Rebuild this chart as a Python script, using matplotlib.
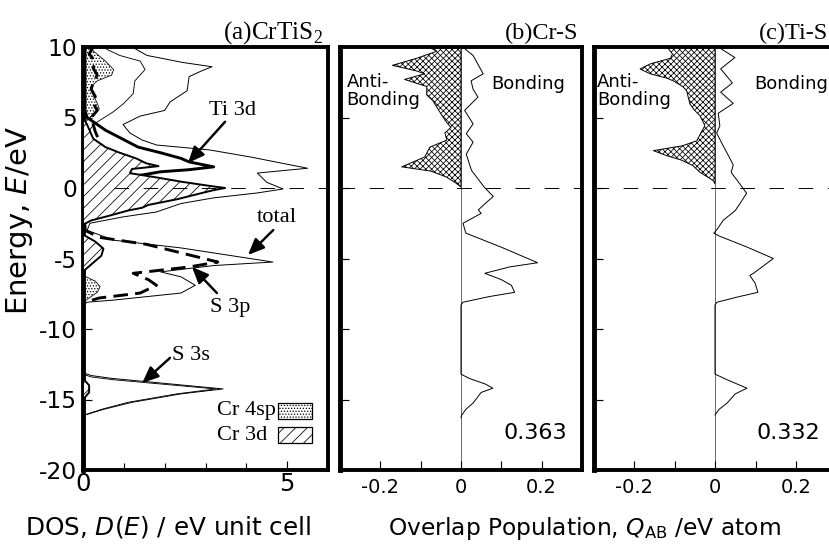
import matplotlib
matplotlib.use('Agg')
import matplotlib.pyplot as plt
from matplotlib.patches import Rectangle

plt.rcParams['hatch.linewidth'] = 0.8
plt.rcParams['mathtext.fontset'] = 'dejavusans'
plt.rcParams['axes.unicode_minus'] = False
plt.rcParams['font.family'] = ['DejaVu Sans']

SERIF = ['Liberation Serif', 'DejaVu Serif']
SANS = ['DejaVu Sans']

# ---------------- data : panel (a) DOS ----------------
E_total = [10.0, 9.4, 8.9, 8.6, 8.3, 7.9, 6.9, 6.1, 5.5, 5.1, 4.5, 3.9, 3.4, 3.05, 2.7, 2.2,
           1.4, 1.06, 0.4, -0.07, -0.35, -0.7, -1.1, -1.7, -2.05, -2.5, -3.0, -3.7, -4.25,
           -5.25, -5.5, -5.95, -6.3, -6.9, -7.45, -7.95, -8.1, -8.3, -13.1, -13.3, -13.5,
           -14.25, -14.6, -15.2, -15.7, -16.1, -16.4, -20.0]
D_total = [1.2, 1.57, 2.45, 3.16, 2.9, 2.6, 2.55, 2.13, 2.0, 1.4, 0.98, 1.15, 1.45, 1.8, 3.1, 4.1,
           5.5, 4.27, 4.5, 4.9, 4.27, 3.2, 2.4, 1.8, 0.98, 0.17, 0.1, 0.75, 2.4,
           4.65, 3.2, 1.9, 2.4, 2.75, 2.4, 0.75, 0.1, 0.0, 0.0, 0.2, 0.7,
           3.43, 2.4, 1.2, 0.5, 0.05, 0.0, 0.0]

E_ti3d = [10.0, 7.0, 5.5, 5.0, 4.6, 4.1, 3.5, 2.9, 2.5, 2.1, 1.85, 1.5, 1.3,
          1.15, 0.8, 0.3, -0.5, -1.5, -2.5, -3.0]
D_ti3d = [0.05, 0.05, 0.05, 0.1, 0.3, 0.55, 0.95, 1.35, 1.9, 2.4, 2.6, 3.2, 2.6,
          1.9, 1.2, 0.8, 0.5, 0.3, 0.05, 0.0]

E_cr3d = [5.0, 4.5, 3.5, 2.9, 2.5, 2.1, 1.75, 1.55, 1.35, 1.05, 0.75, 0.45, 0.15, 0.0, -0.15,
          -0.4, -0.8, -1.2, -1.4, -1.6, -2.0, -2.3, -2.6, -3.3, -3.8, -4.3, -4.8, -5.3, -5.8,
          -6.2, -13.5, -14.0, -14.5, -15.0]
D_cr3d = [0.0, 0.1, 0.25, 0.55, 0.9, 1.3, 1.55, 1.85, 1.2, 1.15, 1.8, 2.4, 3.1, 3.48, 3.2,
          2.85, 2.3, 1.6, 1.45, 1.1, 0.6, 0.2, 0.0, 0.0, 0.3, 0.5, 0.45, 0.25, 0.05,
          0.0, 0.0, 0.15, 0.15, 0.0]

E_cr4sp = [10.0, 9.6, 9.0, 8.4, 8.0, 7.6, 7.2, 6.6, 6.0, 5.6, 5.2, 4.8, 4.4, -6.2, -6.6, -7.0,
           -7.4, -7.8, -8.1, -13.8, -14.2, -14.6]
D_cr4sp = [0.15, 0.3, 0.55, 0.75, 0.7, 0.35, 0.2, 0.25, 0.35, 0.4, 0.25, 0.1, 0.0, 0.0, 0.3, 0.42,
           0.35, 0.15, 0.0, 0.0, 0.1, 0.0]

E_s3p = [10.0, 9.5, 9.0, 8.5, 8.0, 7.5, 7.0, 6.5, 6.0, 5.5, 5.0, 4.0, 3.0, 2.0, 1.0, 0.0, -1.0,
         -2.0, -2.6, -3.0, -3.5, -4.0, -4.6, -5.25, -5.6, -6.05, -6.5, -6.9, -7.45, -7.8, -8.1]
D_s3p = [0.25, 0.15, 0.3, 0.25, 0.35, 0.25, 0.2, 0.3, 0.25, 0.35, 0.2, 0.3, 0.45, 0.55, 0.6, 0.5,
         0.4, 0.2, 0.05, 0.05, 0.4, 1.56, 2.4, 3.3, 2.6, 1.23, 1.6, 1.8, 1.4, 0.4, 0.05]

E_s3s = [-13.2, -13.4, -13.6, -14.25, -14.6, -15.2, -15.7, -16.1]
D_s3s = [0.0, 0.2, 0.75, 3.25, 2.3, 1.1, 0.45, 0.03]

E_other = [10.0, 9.8, 9.4, 9.0, 8.4, 7.6, 6.7, 6.0, 5.4, 4.5, 4.0, 3.0, 2.0, 1.0, 0.0, -1.0,
           -2.0, -2.6]
D_other = [0.5, 0.61, 0.9, 1.4, 1.52, 1.27, 1.23, 1.0, 0.74, 0.25, 0.15, 0.3, 0.4, 0.5, 0.5, 0.45,
           0.2, 0.0]

# ---------------- data : panel (b) Cr-S COOP ----------------
E_crs_anti = [10.0, 9.7, 9.2, 8.7, 8.3, 8.1, 7.7, 7.2, 6.6, 6.2, 5.5, 4.7, 4.3, 3.9, 3.4, 2.9,
              2.2, 1.5, 1.2, 0.8, 0.4, 0.07]
Q_crs_anti = [-0.08, -0.06, -0.11, -0.17, -0.11, -0.09, -0.14, -0.085, -0.085, -0.07, -0.055,
              -0.037, -0.025, -0.04, -0.035, -0.077, -0.09, -0.147, -0.075, -0.038, -0.015, 0.0]

E_crs_bond = [10.0, 9.4, 8.1, 7.6, 7.0, 6.45, 5.5, 4.55, 3.85, 3.25, 2.4, 1.25, 0.05, -0.6,
              -1.1, -1.55, -1.8, -2.5, -3.2, -4.2, -5.3, -5.6, -6.05, -6.5, -6.9, -7.4, -7.7,
              -8.1, -8.3, -13.2, -13.5, -13.9, -14.2, -14.5, -15.25, -15.7, -16.1, -16.3]
Q_crs_bond = [0.004, 0.03, 0.055, 0.025, 0.03, 0.042, 0.009, 0.03, 0.013, 0.03, 0.013, 0.026,
              0.058, 0.08, 0.06, 0.043, 0.05, 0.005, 0.012, 0.1, 0.19, 0.12, 0.059, 0.1, 0.125,
              0.133, 0.07, 0.005, 0.0, 0.0, 0.02, 0.06, 0.079, 0.05, 0.03, 0.012, 0.002, 0.0]

# ---------------- data : panel (c) Ti-S COOP ----------------
E_tis_anti = [10.0, 9.5, 9.2, 8.8, 8.44, 8.1, 7.8, 7.6, 7.2, 6.9, 5.96, 5.5, 5.13, 4.42, 3.9,
              3.35, 3.0, 2.65, 2.3, 2.0, 1.6, 1.11, 0.52, 0.3]
Q_tis_anti = [-0.118, -0.105, -0.11, -0.16, -0.185, -0.16, -0.12, -0.103, -0.08, -0.07, -0.062,
              -0.05, -0.037, -0.025, -0.035, -0.045, -0.08, -0.152, -0.12, -0.085, -0.055,
              -0.037, -0.004, 0.0]

E_tis_bond = [10.0, 9.25, 8.45, 7.45, 6.8, 6.0, 5.3, 4.4, 3.9, 3.0, 2.2, 1.63, 1.1, 0.57, -0.37,
              -1.09, -1.6, -2.3, -2.98, -3.2, -3.4, -4.2, -5.0, -5.3, -6.05, -6.2, -6.75, -7.4,
              -7.7, -8.1, -8.3, -13.2, -13.6, -14.2, -14.6, -15.25, -15.7, -16.1]
Q_tis_bond = [0.008, 0.049, 0.014, 0.043, 0.014, 0.045, 0.008, 0.012, 0.004, 0.02, 0.035, 0.045,
              0.04, 0.054, 0.078, 0.062, 0.05, 0.02, 0.004, -0.003, 0.01, 0.08, 0.144, 0.13,
              0.095, 0.086, 0.099, 0.106, 0.06, 0.005, 0.0, 0.0, 0.03, 0.079, 0.05, 0.03, 0.01,
              0.0]

total_op = ['0.363', '0.332']
y_ticks = [10, 5, 0, -5, -10, -15, -20]
y_ticklabels = ['10', '5', '0', '-5', '-10', '-15', '-20']
coop_ticks = [-0.2, 0.0, 0.2]
coop_ticklabels = ['-0.2', '0', '0.2']

# ---------------- figure ----------------
DPI = 70
W, H = 829, 546
fig = plt.figure(figsize=(W / DPI, H / DPI), dpi=DPI)

def box(l, r, t, b):
    return [l / W, (H - b) / H, (r - l) / W, (b - t) / H]

axA = fig.add_axes(box(83, 328, 47, 470))
axB = fig.add_axes(box(340, 582, 47, 470))
axC = fig.add_axes(box(593.5, 836.5, 47, 470))

for ax in (axA, axB, axC):
    ax.set_ylim(-20, 10)
    for s in ax.spines.values():
        s.set_linewidth(4)
    ax.spines['left'].set_linewidth(5)
    ax.set_yticks(y_ticks)
    ax.tick_params(axis='both', which='both', direction='in', top=False, right=False,
                   width=1.2, length=9)

# Fermi level (dashed)
axA.plot([0.75, 6.0], [0, 0], color='black', lw=1, dashes=(15, 15), zorder=6)
axB.axhline(0, color='black', lw=1, dashes=(15, 15), zorder=6)
axC.axhline(0, color='black', lw=1, dashes=(15, 15), zorder=6)

# ---- panel (a)
axA.set_xlim(0, 6)
axA.set_xticks([0, 5])
axA.set_xticks([1, 2, 3, 4], minor=True)
axA.tick_params(axis='x', which='minor', length=7)
axA.set_xticklabels(['0', '5'], fontsize=25, family=SANS)
axA.tick_params(axis='x', pad=2)
axA.set_yticklabels(y_ticklabels, fontsize=24, family=SANS)
axA.tick_params(axis='y', pad=6)

axA.plot(D_total, E_total, color='black', lw=1.0, zorder=2)
axA.plot(D_other, E_other, color='black', lw=0.9, zorder=2)
axA.fill_betweenx(E_cr4sp, 0, D_cr4sp, facecolor='white', edgecolor='black', hatch='....',
                  lw=0.8, zorder=2.2)
axA.plot(D_s3p, E_s3p, color='black', lw=3, dashes=(5, 2.5), zorder=2.4)
axA.plot(D_ti3d, E_ti3d, color='black', lw=3, zorder=2.5)
axA.fill_betweenx(E_cr3d, 0, D_cr3d, facecolor='white', edgecolor='black', hatch='//',
                  lw=2, zorder=3)
axA.plot(D_s3s, E_s3s, color='black', lw=0.9, zorder=2)

arrow = dict(arrowstyle='-|>,head_length=0.7,head_width=0.3', lw=2.5, color='black',
             shrinkA=0, shrinkB=0, mutation_scale=20)
axA.annotate('', xy=(2.57, 1.77), xytext=(3.48, 4.7), arrowprops=arrow, zorder=7)
axA.text(3.65, 5.5, 'Ti 3d', ha='center', va='center', fontsize=23, family=SERIF)
axA.annotate('', xy=(4.04, -4.75), xytext=(4.66, -2.98), arrowprops=arrow, zorder=7)
axA.text(4.75, -2.1, 'total', ha='center', va='center', fontsize=23, family=SERIF)
axA.annotate('', xy=(2.67, -5.6), xytext=(3.28, -7.45), arrowprops=arrow, zorder=7)
axA.text(3.6, -8.5, 'S 3p', ha='center', va='center', fontsize=23, family=SERIF)
axA.annotate('', xy=(1.45, -13.83), xytext=(2.13, -12.05), arrowprops=arrow, zorder=7)
axA.text(2.18, -11.85, 'S 3s', ha='left', va='center', fontsize=23, family=SERIF)

# legend keys drawn by hand (text left-aligned, boxes right)
axA.add_patch(Rectangle((4.78, -16.4), 0.82, 1.15, facecolor='white', edgecolor='black',
                        hatch='....', lw=1.3, zorder=4))
axA.add_patch(Rectangle((4.78, -18.1), 0.82, 1.15, facecolor='white', edgecolor='black',
                        hatch='//', lw=1.3, zorder=4))
axA.text(3.27, -15.75, 'Cr 4sp', ha='left', va='center', fontsize=23, family=SERIF)
axA.text(3.27, -17.55, 'Cr 3d', ha='left', va='center', fontsize=23, family=SERIF)

axA.text(0.98, 1.02, r'(a)CrTiS$_{\mathregular{2}}$', transform=axA.transAxes, ha='right',
         va='baseline', fontsize=26, family=SERIF)

# ---- panels (b), (c)
panels = [(axB, E_crs_anti, Q_crs_anti, E_crs_bond, Q_crs_bond, '(b)Cr-S', 0.983, -0.284, 0.074),
          (axC, E_tis_anti, Q_tis_anti, E_tis_bond, Q_tis_bond, '(c)Ti-S', 0.965, -0.291, 0.098)]
for ax, Ea, Qa, Eb, Qb, title, tx, xa, xb in panels:
    ax.set_xlim(-0.3, 0.3)
    ax.set_xticks(coop_ticks)
    ax.set_xticks([-0.1, 0.1], minor=True)
    ax.tick_params(axis='x', which='minor', length=9)
    ax.set_xticklabels(coop_ticklabels, fontsize=20, family=SANS)
    ax.tick_params(axis='x', pad=8)
    ax.tick_params(axis='y', labelleft=False)
    ax.axvline(0, color='0.35', lw=0.9, zorder=1.5)
    ax.fill_betweenx(Ea, 0, Qa, facecolor='white', edgecolor='black', hatch='xxxx', lw=1.0,
                     zorder=2)
    ax.plot(Qb, Eb, color='black', lw=1.0, zorder=3)
    ax.text(xa, 6.9, 'Anti-\nBonding', ha='left', va='center', fontsize=18.5, family=SANS,
            linespacing=1.0, zorder=5)
    ax.text(xb, 7.4, 'Bonding', ha='left', va='center', fontsize=18.5, family=SANS, zorder=5)
    ax.text(tx, 1.02, title, transform=ax.transAxes, ha='right', va='baseline', fontsize=25,
            family=SERIF)

axB.text(0.262, -17.4, total_op[0], ha='right', va='center', fontsize=23, family=SANS)
axC.text(0.259, -17.4, total_op[1], ha='right', va='center', fontsize=23, family=SANS)

# ---- axis labels
fig.text(20 / W, 1 - 221 / H, 'Energy, $E$/eV', rotation=90, ha='center', va='center',
         fontsize=30, family=SANS)
fig.text(168 / W, 1 - 535 / H, 'DOS, $D$($E$) / eV unit cell', ha='center', va='baseline',
         fontsize=25.5, family=SANS)
fig.text(584 / W, 1 - 535 / H, 'Overlap Population, $Q_{\\mathrm{AB}}$ /eV atom', ha='center',
         va='baseline', fontsize=24, family=SANS)

fig.savefig('out.png', dpi=DPI)
